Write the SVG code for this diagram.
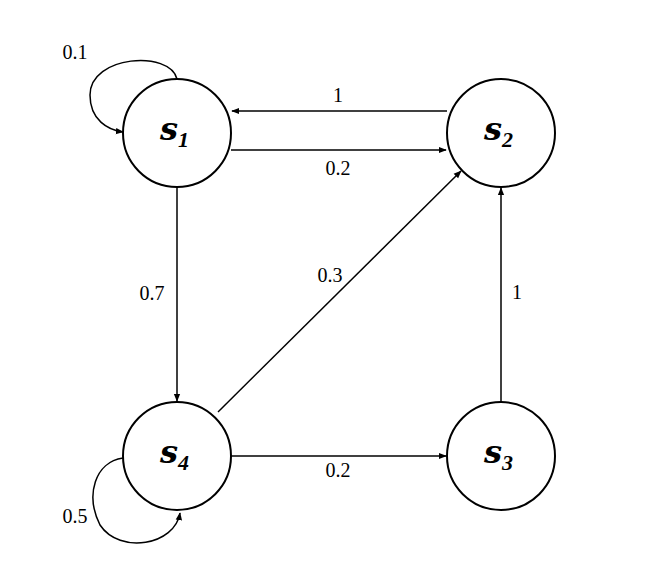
<svg xmlns="http://www.w3.org/2000/svg" width="666" height="588" viewBox="0 0 666 588">
<style>
.n{fill:#fff;stroke:#000;stroke-width:2}
.e{fill:none;stroke:#000;stroke-width:1.5;marker-end:url(#a)}
.l{font-family:"Liberation Serif",serif;font-size:20px;text-anchor:middle}
.s{font-family:"DejaVu Serif","Liberation Serif",serif;font-style:italic;font-weight:bold;font-size:32px}
.sub{font-family:"Liberation Serif",serif;font-size:22px;font-weight:bold}
</style>
<defs><marker id="a" viewBox="0 0 10 10" refX="9" refY="5" markerWidth="8" markerHeight="8" orient="auto" markerUnits="userSpaceOnUse"><path d="M0,1 L10,5 L0,9 z"/></marker></defs>
<rect width="666" height="588" fill="#fff"/>
<g id="edges">
<path class="e" d="M447,111 L232,111"/>
<path class="e" d="M231,150 L446,150"/>
<path class="e" d="M177,187 L177,401"/>
<path class="e" d="M218,412 L461,171"/>
<path class="e" d="M501,402 L501,188"/>
<path class="e" d="M231,456 L446,456"/>
<path class="e" d="M177,79 C170,50 90,55 90,95 C90,120 108,130 123,132"/>
<path class="e" d="M123,458 C95,462 85,495 100,525 C120,555 175,545 180,513"/>
<text class="l" x="338" y="102">1</text>
<text class="l" x="338" y="175">0.2</text>
<text class="l" x="152" y="300">0.7</text>
<text class="l" x="330" y="282">0.3</text>
<text class="l" x="517" y="299">1</text>
<text class="l" x="338" y="477">0.2</text>
<text class="l" x="75" y="59">0.1</text>
<text class="l" x="75" y="523">0.5</text>
</g>
<g id="s1"><circle class="n" cx="177" cy="133" r="54"/><text x="160" y="140" class="s">s<tspan class="sub" dy="7">1</tspan></text></g>
<g id="s2"><circle class="n" cx="501" cy="133" r="54"/><text x="484" y="140" class="s">s<tspan class="sub" dy="7">2</tspan></text></g>
<g id="s3"><circle class="n" cx="501" cy="456" r="54"/><text x="484" y="463" class="s">s<tspan class="sub" dy="7">3</tspan></text></g>
<g id="s4"><circle class="n" cx="177" cy="456" r="54"/><text x="160" y="463" class="s">s<tspan class="sub" dy="7">4</tspan></text></g>
</svg>
